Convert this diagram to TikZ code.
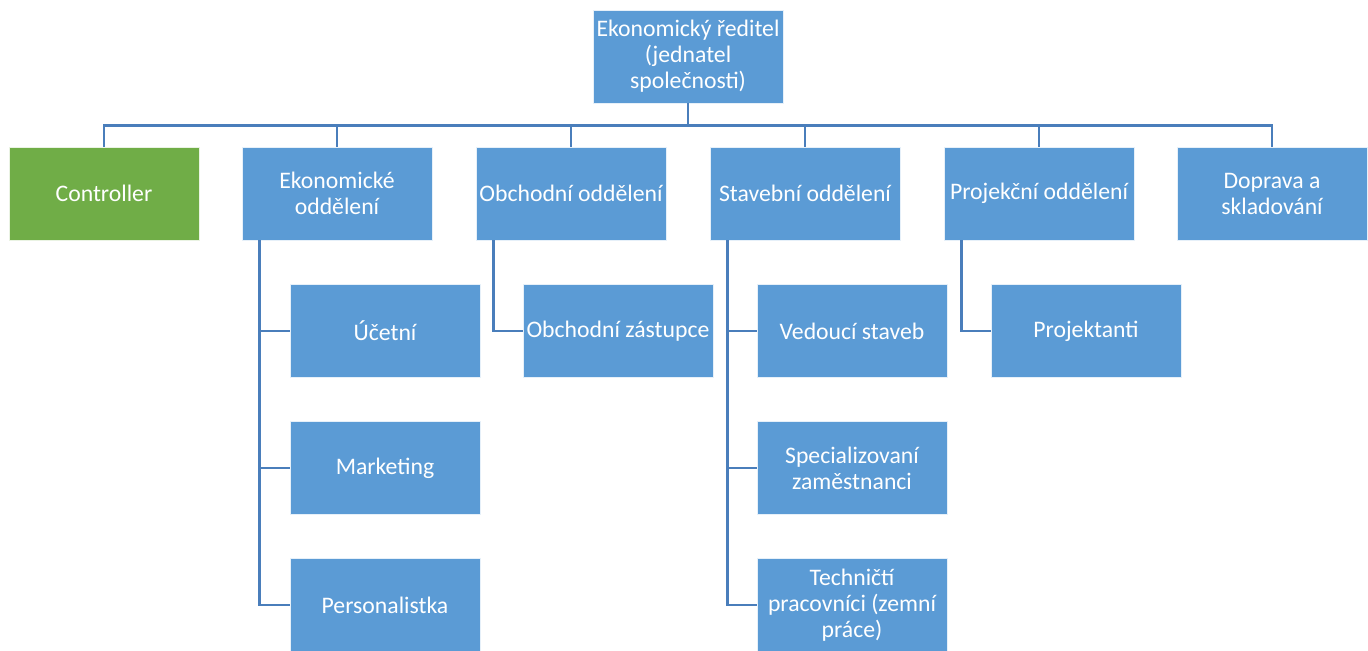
\documentclass[tikz,border=0pt]{standalone}
\usepackage{fontspec}
\setmainfont{Carlito}
\usepackage{xcolor}
\usetikzlibrary{positioning}

\definecolor{boxblue}{HTML}{5B9BD5}
\definecolor{boxgreen}{HTML}{70AD47}
\definecolor{linkblue}{HTML}{4A7EBB}

\tikzset{
  unit/.style={fill=boxblue, draw=white!85!boxblue, line width=0.4pt,
    minimum width=3.8cm, minimum height=1.86cm, inner sep=0pt,
    align=center, text=white, font=\fontsize{13.5}{14.8}\selectfont},
  ctrlunit/.style={unit, fill=boxgreen, draw=white!85!boxgreen},
  link/.style={draw=linkblue, line width=1.6pt}
}

\begin{document}
\begin{tikzpicture}[x=0.02cm,y=-0.02cm]
\useasboundingbox (0,0) rectangle (1368,651);

\node[unit] (boss) at (688,56.5) {Ekonomický ředitel\\(jednatel\\společnosti)};

% first level
\node[ctrlunit] (ctrl) at (104,193.5) {Controller};
\node[unit] (eko)  at (337,193.5)  {Ekonomické\\oddělení};
\node[unit] (obch) at (571,193.5)  {Obchodní oddělení};
\node[unit] (stav) at (805,193.5)  {Stavební oddělení};
\node[unit] (proj) at (1039,193.5) {Projekční oddělení};
\node[unit] (dopr) at (1272,193.5) {Doprava a\\skladování};

\foreach \nm in {ctrl,eko,obch,stav,proj,dopr} {
    \draw[link] (boss.south) -- ++(0,22) -| (\nm.north);
}

% second level
\node[unit] (uct)   at (385,331)  {Účetní};
\node[unit] (mark)  at (385,468)  {Marketing};
\node[unit] (pers)  at (385,605)  {Personalistka};
\node[unit] (zast)  at (618,331)  {Obchodní zástupce};
\node[unit] (ved)   at (852,331)  {Vedoucí staveb};
\node[unit] (spec)  at (852,468)  {Specializovaní\\zaměstnanci};
\node[unit] (tech)  at (852,605)  {Techničtí\\pracovníci (zemní\\práce)};
\node[unit] (projk) at (1086,331) {Projektanti};

\foreach \nm/\up in {uct/eko,mark/eko,pers/eko,zast/obch,ved/stav,spec/stav,tech/stav,projk/proj} {
    \draw[link] ([xshift=0.36cm]\up.south west) |- (\nm.west);
}
\end{tikzpicture}
\end{document}
